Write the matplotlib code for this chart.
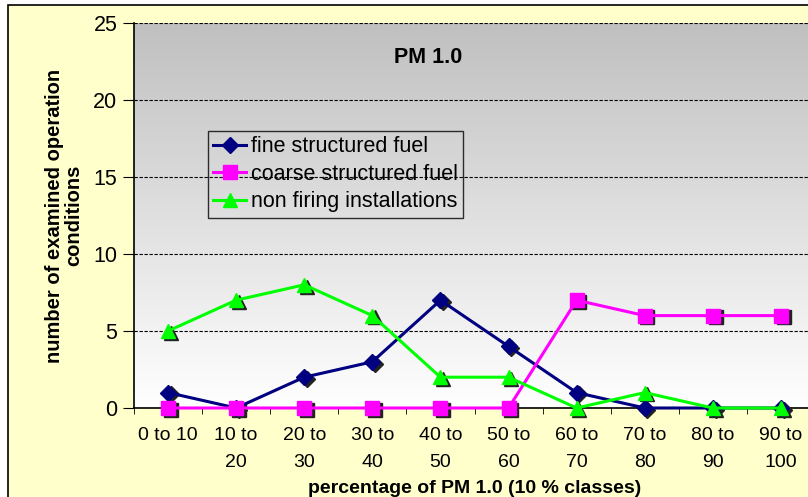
import matplotlib.pyplot as plt
import numpy as np
from matplotlib.patches import Rectangle
from matplotlib.colors import LinearSegmentedColormap

plt.rcParams['font.family'] = ['Liberation Sans', 'DejaVu Sans']

categories = ['0 to 10', '10 to\n20', '20 to\n30', '30 to\n40', '40 to\n50',
              '50 to\n60', '60 to\n70', '70 to\n80', '80 to\n90', '90 to\n100']
fine = [1, 0, 2, 3, 7, 4, 1, 0, 0, 0]
coarse = [0, 0, 0, 0, 0, 0, 7, 6, 6, 6]
non_firing = [5, 7, 8, 6, 2, 2, 0, 1, 0, 0]

W, H = 808, 497
fig = plt.figure(figsize=(W / 100, H / 100), dpi=100)
fig.patch.set_facecolor('white')

# chart area frame (cropped at right and bottom)
fig.patches.append(Rectangle((8 / W, -0.1), 1.1, 1.1 - 5 / H, transform=fig.transFigure,
                             facecolor='#FFFFCC', edgecolor='black', lw=1.2, zorder=-5))

left, right, top, bottom = 134, 815, 23, 408
ax = fig.add_axes([left / W, 1 - bottom / H, (right - left) / W, (bottom - top) / H])
ax.set_facecolor('none')

# gray to white gradient
grad = np.linspace(1, 0, 256).reshape(-1, 1)
ax.imshow(grad, extent=[0, 1, 0, 1], transform=ax.transAxes, aspect='auto',
          cmap=LinearSegmentedColormap.from_list('g', ['#ffffff', '#c0c0c0']), zorder=0)

x = np.arange(len(categories))
ax.set_xlim(-0.5, len(categories) - 0.5)
ax.set_ylim(0, 25)

for vals, col, mk, ms, lab in [(fine, '#000080', 'D', 8, 'fine structured fuel'),
                                (coarse, '#FF00FF', 's', 10, 'coarse structured fuel'),
                                (non_firing, '#00FF00', '^', 10, 'non firing installations')]:
    # marker shadow
    ax.plot(x + 0.04, np.array(vals) - 0.12, ls='none', marker=mk, ms=ms, color='#222222',
            zorder=3, clip_on=False)
    ax.plot(x, vals, color=col, lw=2.2, marker=mk, ms=ms, mec=col, mfc=col,
            zorder=4, clip_on=False, label=lab)

ax.set_yticks([0, 5, 10, 15, 20, 25])
ax.yaxis.grid(True, ls=(0, (3, 1.5)), color='black', lw=0.8)
ax.set_axisbelow(False)
ax.set_xticks(x)
ax.set_xticklabels(categories, fontsize=14, linespacing=1.75)
ax.set_xticks(np.arange(-0.5, len(categories)), minor=True)
ax.tick_params(axis='x', which='major', length=0, pad=14)
ax.tick_params(axis='x', which='minor', length=4, direction='out')
ax.tick_params(axis='y', length=8, direction='out', labelsize=15.5, pad=4)

for s in ['top', 'right']:
    ax.spines[s].set_visible(False)
ax.spines['left'].set_linewidth(1.2)
ax.spines['bottom'].set_linewidth(1.2)

ax.text(0.432, 0.911, 'PM 1.0', transform=ax.transAxes, ha='center', va='center',
        fontsize=15.5, fontweight='bold')

ax.set_xlabel('percentage of PM 1.0 (10 % classes)', fontsize=14, fontweight='bold', labelpad=6)
ax.set_ylabel('number of examined operation\nconditions', fontsize=14.5, fontweight='bold',
              labelpad=7, linespacing=1.05)

leg = ax.legend(loc='upper left',
                bbox_to_anchor=((208 - left) / (right - left), 1 - (131 - top) / (bottom - top)),
                fontsize=15.5, frameon=True, fancybox=False, facecolor='none', edgecolor='black',
                borderpad=0.25, labelspacing=0.3, handlelength=1.5, handletextpad=0.25,
                borderaxespad=0)
leg.get_frame().set_linewidth(1.0)

fig.savefig('out.png', dpi=100)
